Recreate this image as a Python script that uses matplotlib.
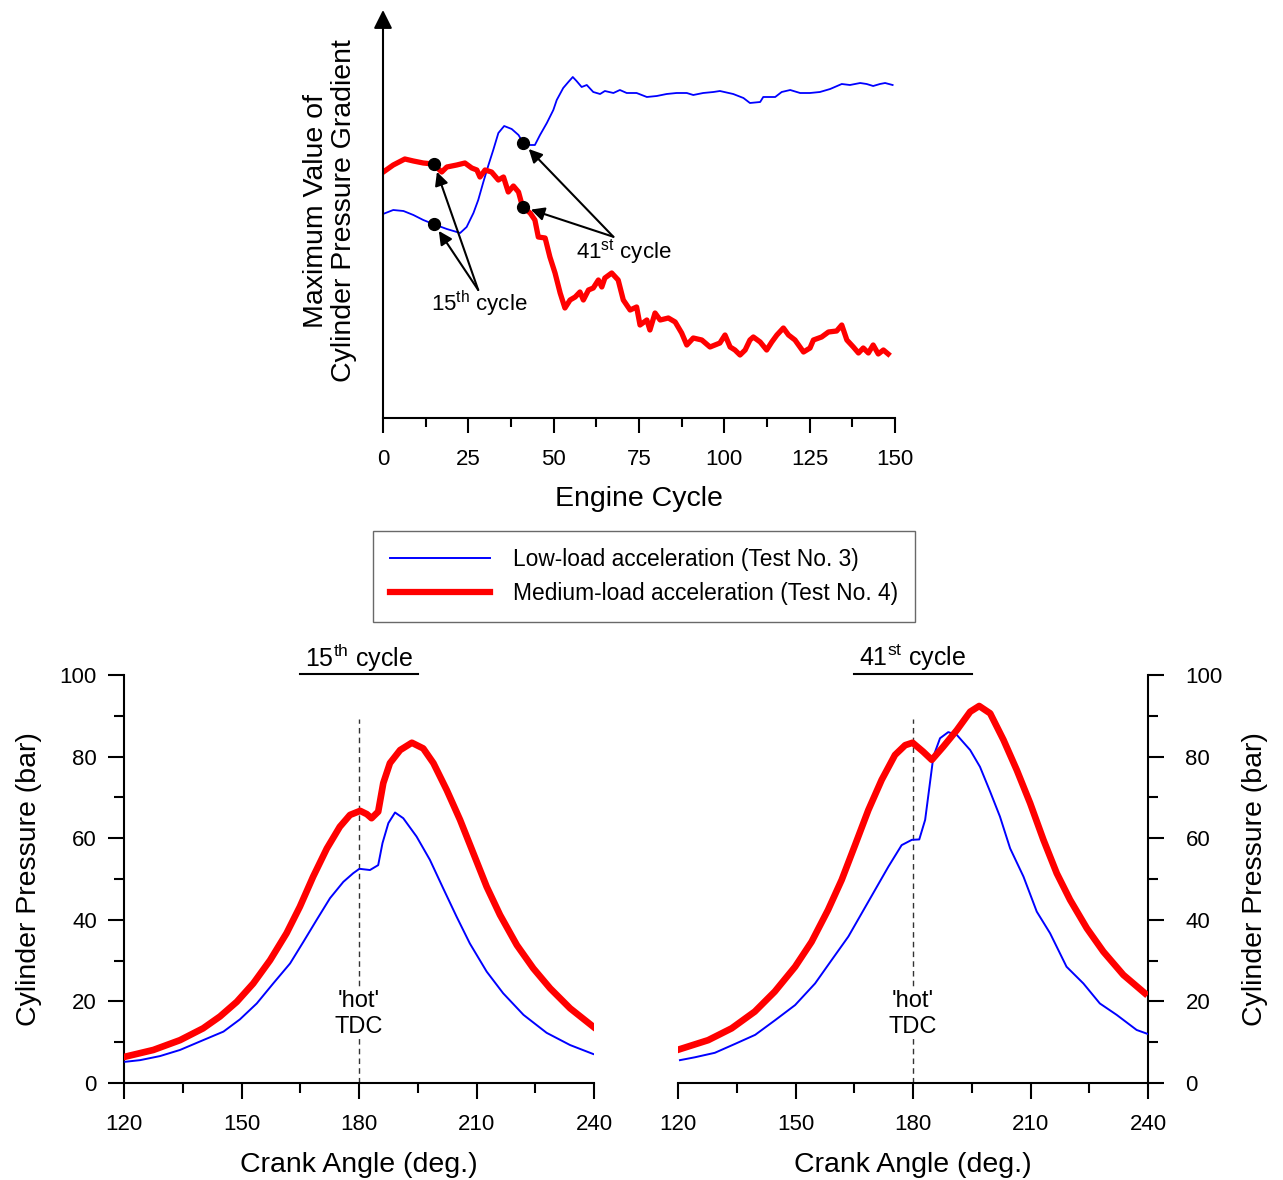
import matplotlib
matplotlib.use("Agg")
import matplotlib.pyplot as plt
from matplotlib.lines import Line2D
from matplotlib.ticker import MultipleLocator

plt.rcParams['font.family'] = ['Liberation Sans', 'DejaVu Sans']
plt.rcParams['mathtext.fontset'] = 'custom'
plt.rcParams['mathtext.rm'] = 'Liberation Sans'
plt.rcParams['mathtext.it'] = 'Liberation Sans:italic'

# ---------------- data: top panel (arbitrary units) ----------------
low_cycle = [0, 3, 6, 8.9, 11.8, 14.7, 18.7, 22.6, 24.5, 26.5, 27.9, 29.4, 30.9, 32.3, 33.8,
             35.5, 37.7, 39.7, 41.1, 42.6, 44.5, 46.0, 48.0, 49.9, 50.9, 52.8, 54.3, 55.6,
             56.7, 58.2, 59.7, 61.6, 63.6, 65.0, 67.5, 69.4, 71.4, 74.3, 77.3, 80.2, 83.1,
             86.0, 89.0, 90.9, 93.8, 96.8, 98.7, 102.6, 105.6, 107.5, 110.5, 111.4, 113.4,
             114.9, 116.8, 119.3, 122.2, 125.1, 128.0, 131.0, 134.4, 136.8, 139.8, 141.7,
             143.6, 145.6, 147.1, 149.3]
low_grad = [51.0, 52.0, 51.75, 50.75, 49.5, 48.5, 47.25, 46.25, 47.75, 51.25, 54.5, 59.0,
            63.25, 67.0, 71.25, 73.0, 72.25, 70.75, 68.75, 68.25, 68.25, 70.75, 73.75, 77.0,
            79.5, 82.5, 84.0, 85.25, 84.25, 82.75, 83.25, 81.5, 81.0, 81.75, 81.25, 82.0,
            81.25, 81.25, 80.25, 80.5, 81.0, 81.25, 81.25, 80.75, 81.25, 81.5, 81.75, 81.0,
            80.0, 78.75, 79.0, 80.25, 80.25, 80.25, 81.5, 82.0, 81.25, 81.25, 81.5, 82.25,
            83.5, 83.25, 83.75, 83.5, 83.0, 83.5, 83.75, 83.25]

med_cycle = [0.1, 3, 6.4, 8.9, 11.8, 14.7, 17.2, 18.7, 21.6, 24, 26, 27.5, 28.4, 29.9, 31.8,
             33.8, 35.3, 36.7, 38.2, 39.7, 40.9, 43.1, 44.5, 45.5, 47.5, 48.9, 50.4, 51.9,
             53.3, 54.8, 56.3, 57.7, 58.7, 60.2, 61.6, 63.1, 64.1, 65.0, 67.0, 68.9, 70.4,
             72.4, 74.3, 75.3, 77.3, 78.2, 79.7, 81.2, 83.6, 85.6, 87.5, 89.0, 90.9, 93.4,
             95.8, 98.7, 100.2, 101.7, 103.1, 104.6, 106.1, 107.5, 108.5, 110.5, 112.4,
             113.9, 115.4, 117.3, 118.8, 120.7, 123.2, 125.1, 126.1, 128.5, 130.5, 132.9,
             134.4, 135.9, 137.8, 139.3, 140.7, 142.2, 143.6, 145.1, 146.6, 148.0]
med_grad = [61.5, 63.25, 64.75, 64.25, 63.75, 63.5, 61.5, 62.75, 63.25, 63.75, 62.5, 62.0,
            60.25, 62.0, 61.5, 59.5, 60.25, 56.5, 58.0, 56.5, 52.75, 51.25, 49.5, 45.25,
            45.0, 40.25, 36.25, 31.25, 27.5, 29.5, 30.25, 31.5, 29.5, 32.0, 32.5, 34.5,
            32.75, 35.0, 36.25, 34.5, 29.5, 27.0, 27.75, 23.25, 24.5, 22.0, 26.25, 24.5,
            25.0, 24.0, 21.25, 18.25, 20.0, 19.5, 17.75, 18.75, 20.75, 17.75, 17.0, 15.75,
            17.0, 19.5, 20.25, 19.0, 17.0, 19.0, 20.75, 22.5, 20.75, 19.5, 16.5, 17.5, 19.5,
            20.25, 21.5, 21.75, 23.25, 19.5, 17.75, 16.25, 17.5, 16.25, 18.25, 16.0, 17.0,
            16.0]

mark_cycles = [15, 41]
mark_low = [48.5, 68.75]
mark_med = [63.5, 52.75]

# ---------------- data: 15th cycle ----------------
c15_med_ang = [120.3, 127.5, 134.3, 140.2, 144.5, 148.8, 153.0, 157.3, 161.5, 164.9, 168.3,
               171.8, 175.1, 177.7, 180.3, 182.0, 183.2, 184.9, 186.2, 187.9, 190.5, 193.5,
               196.4, 199.0, 202.4, 205.8, 209.2, 212.6, 216.0, 220.3, 224.5, 228.8, 233.9,
               239.8]
c15_med_p = [6.45, 8.1, 10.5, 13.4, 16.3, 19.9, 24.4, 30.1, 36.7, 43.2, 50.6, 57.5, 62.8,
             65.7, 66.7, 65.9, 64.9, 66.5, 73.5, 78.4, 81.6, 83.4, 82.0, 78.4, 71.8, 64.5,
             56.3, 48.1, 41.2, 33.8, 28.1, 23.2, 18.3, 13.8]
c15_low_ang = [120.3, 124.1, 129.2, 134.3, 140.2, 145.4, 149.6, 153.9, 158.1, 162.4, 165.8,
               169.2, 172.6, 176.0, 178.5, 180.1, 182.8, 184.9, 186.0, 187.5, 189.2, 191.3,
               194.7, 198.1, 201.5, 204.9, 208.3, 212.6, 216.8, 222.0, 227.9, 233.9, 239.8]
c15_low_p = [5.2, 5.6, 6.6, 8.1, 10.5, 12.6, 15.6, 19.5, 24.4, 29.3, 34.6, 40.0, 45.3, 49.3,
             51.4, 52.5, 52.2, 53.4, 58.8, 63.7, 66.3, 64.9, 60.4, 54.7, 47.7, 40.8, 34.2,
             27.3, 22.0, 16.7, 12.3, 9.3, 7.1]

# ---------------- data: 41st cycle ----------------
c41_med_ang = [120.5, 127.7, 133.7, 139.6, 144.7, 149.9, 154.1, 158.3, 161.8, 165.2, 168.6,
               172.0, 175.4, 178.0, 179.9, 182.6, 184.8, 187.7, 191.2, 194.6, 196.9, 199.7,
               203.1, 206.5, 209.9, 213.3, 216.7, 220.1, 224.4, 228.6, 233.7, 239.2]
c41_med_p = [8.3, 10.5, 13.4, 17.5, 22.4, 28.5, 34.6, 42.4, 49.8, 58.3, 66.9, 74.3, 80.4,
             82.8, 83.4, 81.2, 79.2, 82.4, 86.5, 91.0, 92.4, 90.6, 84.1, 76.7, 68.6, 59.6,
             51.4, 44.9, 37.9, 32.2, 26.5, 22.0]
c41_low_ang = [120.5, 124.3, 129.4, 134.6, 139.7, 144.8, 149.9, 155.0, 159.2, 163.5, 166.9,
               170.3, 173.7, 177.1, 179.7, 181.6, 183.1, 184.2, 185.2, 186.9, 189.0, 191.2,
               194.6, 197.1, 199.7, 202.2, 204.8, 208.2, 211.6, 215.0, 219.2, 223.5, 227.7,
               232.0, 237.1, 240.0]
c41_low_p = [5.6, 6.3, 7.4, 9.6, 11.8, 15.4, 19.1, 24.4, 30.1, 35.9, 41.6, 47.3, 53.0, 58.3,
             59.6, 59.7, 64.5, 72.6, 80.0, 84.5, 86.0, 85.3, 81.6, 77.5, 71.4, 65.3, 57.5,
             50.6, 42.0, 36.7, 28.5, 24.4, 19.5, 16.7, 13.0, 12.0]

legend_labels = ['Low-load acceleration (Test No. 3)', 'Medium-load acceleration (Test No. 4)']

BLUE = '#0000FF'
RED = '#FF0000'
W, H = 1283, 1180
TICK_FS = 16
LABEL_FS = 20.5

fig = plt.figure(figsize=(W / 100, H / 100), dpi=100)

# ---------------- top panel ----------------
ax0 = fig.add_axes([383 / W, 1 - 418 / H, 512 / W, 408 / H])
ax0.plot(low_cycle, low_grad, color=BLUE, lw=1.3, solid_joinstyle='round')
ax0.plot(med_cycle, med_grad, color=RED, lw=3.8, solid_joinstyle='round')
ax0.plot(mark_cycles, mark_low, 'o', color='k', ms=8.5, zorder=5)
ax0.plot(mark_cycles, mark_med, 'o', color='k', ms=8.5, zorder=5)
ax0.set_xlim(0, 150)
ax0.set_ylim(0, 102)
for s in ['top', 'right', 'left']:
    ax0.spines[s].set_visible(False)
ax0.spines['bottom'].set_linewidth(1.5)
ax0.set_yticks([])
ax0.xaxis.set_major_locator(MultipleLocator(25))
ax0.xaxis.set_minor_locator(MultipleLocator(12.5))
ax0.tick_params(axis='x', which='major', length=11, width=1.5, pad=11, labelsize=TICK_FS)
ax0.tick_params(axis='x', which='minor', length=6.5, width=1.5)
ax0.set_xlabel('Engine Cycle', fontsize=LABEL_FS, labelpad=12)
ax0.annotate('', xy=(0, 1), xytext=(0, 0), xycoords='axes fraction',
             arrowprops=dict(arrowstyle='-|>', lw=1.5, color='k', mutation_scale=28,
                             shrinkA=0, shrinkB=0))
fig.text(330 / W, 1 - 211 / H, 'Maximum Value of\nCylinder Pressure Gradient',
         rotation=90, ha='center', va='center', fontsize=LABEL_FS, linespacing=1.08)

arrow_kw = dict(arrowstyle='-|>', lw=1.5, color='k', mutation_scale=20, shrinkA=0, shrinkB=6)
for vals in (mark_low, mark_med):
    ax0.annotate('', xy=(mark_cycles[0], vals[0]), xytext=(27.9, 32.0), arrowprops=arrow_kw)
    ax0.annotate('', xy=(mark_cycles[1], vals[1]), xytext=(67.5, 45.3), arrowprops=arrow_kw)
ax0.text(28.1, 28.5, r'15$^{\rm th}$ cycle', ha='center', va='center', fontsize=16)
ax0.text(70.6, 41.5, r'41$^{\rm st}$ cycle', ha='center', va='center', fontsize=16)

# ---------------- legend ----------------
handles = [Line2D([], [], color=BLUE, lw=1.4), Line2D([], [], color=RED, lw=4.5)]
leg = fig.legend(handles, legend_labels, loc='center', bbox_to_anchor=(644 / W, 1 - 576.5 / H),
                 fontsize=16.4, frameon=True, fancybox=False, edgecolor='#444444',
                 handlelength=4.4, handletextpad=1.0, borderpad=0.75, labelspacing=0.5,
                 borderaxespad=0)
leg.get_frame().set_linewidth(1.0)

# ---------------- bottom panels ----------------
def setup(ax, side):
    ax.set_xlim(120, 240)
    ax.set_ylim(0, 100)
    ax.xaxis.set_major_locator(MultipleLocator(30))
    ax.xaxis.set_minor_locator(MultipleLocator(15))
    ax.yaxis.set_major_locator(MultipleLocator(20))
    ax.yaxis.set_minor_locator(MultipleLocator(10))
    ax.spines['top'].set_visible(False)
    hide = 'right' if side == 'left' else 'left'
    ax.spines[hide].set_visible(False)
    for s in ['bottom', side]:
        ax.spines[s].set_linewidth(1.5)
    ax.tick_params(which='major', length=11.5, width=1.5, labelsize=TICK_FS)
    ax.tick_params(which='minor', length=7, width=1.5)
    ax.tick_params(axis='x', which='major', pad=11)
    if side == 'right':
        ax.yaxis.tick_right()
        ax.yaxis.set_label_position('right')
        ax.tick_params(axis='y', which='major', pad=15.5)
        ax.set_ylabel('Cylinder Pressure (bar)', fontsize=LABEL_FS, labelpad=14)
    else:
        ax.tick_params(axis='y', which='major', pad=8)
        ax.set_ylabel('Cylinder Pressure (bar)', fontsize=LABEL_FS, labelpad=13)
    ax.set_xlabel('Crank Angle (deg.)', fontsize=LABEL_FS, labelpad=12)
    ax.vlines(180, 0, 89.2, colors='#333333', linestyles=(0, (4, 3)), lw=1.0, zorder=1)
    ax.text(180, 16.9, "'hot'\nTDC", ha='center', va='center', fontsize=17, linespacing=1.2,
            bbox=dict(facecolor='white', edgecolor='none', pad=1), zorder=2)


ax1 = fig.add_axes([124 / W, 1 - 1083 / H, 470 / W, 408 / H])
ax2 = fig.add_axes([678 / W, 1 - 1083 / H, 470 / W, 408 / H])
setup(ax1, 'left')
setup(ax2, 'right')

ax1.plot(c15_low_ang, c15_low_p, color=BLUE, lw=1.4, zorder=3, solid_joinstyle='round')
ax1.plot(c15_med_ang, c15_med_p, color=RED, lw=4.8, zorder=4, solid_joinstyle='round')
ax2.plot(c41_low_ang, c41_low_p, color=BLUE, lw=1.4, zorder=3, solid_joinstyle='round')
ax2.plot(c41_med_ang, c41_med_p, color=RED, lw=4.8, zorder=4, solid_joinstyle='round')

for ax, title in [(ax1, r'15$^{\rm th}$ cycle'), (ax2, r'41$^{\rm st}$ cycle')]:
    ax.text(180, 104.2, title, ha='center', va='center', fontsize=18)
    ax.plot([165, 195], [100.3, 100.3], color='k', lw=1.5, clip_on=False)

fig.savefig('out.png', dpi=100)
